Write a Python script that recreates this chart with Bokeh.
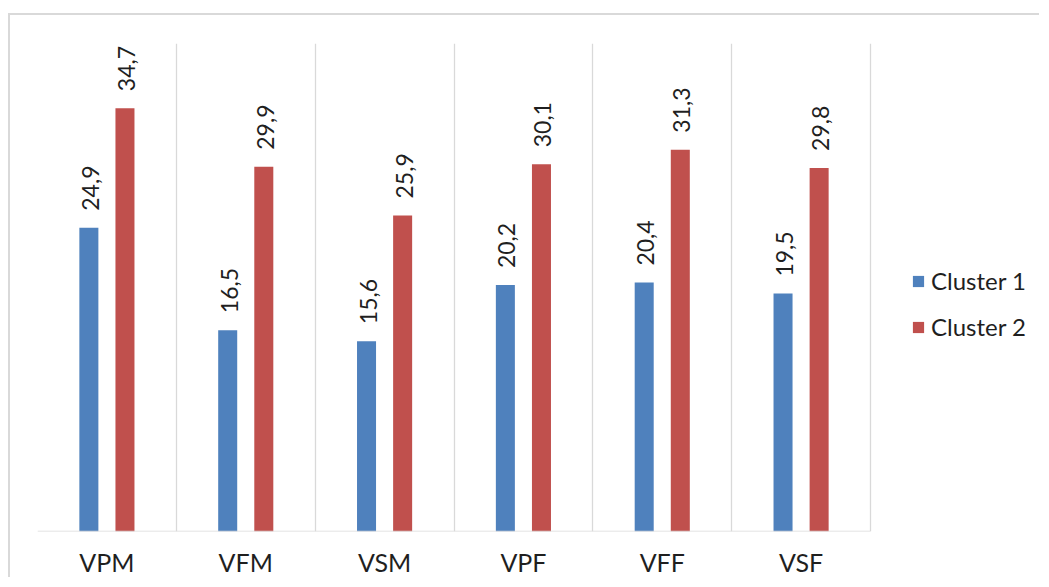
import math
from bokeh.plotting import figure
from bokeh.models import ColumnDataSource, FixedTicker, Legend, LegendItem, Range1d
from bokeh.core.properties import value
from bokeh.embed import file_html
from bokeh.resources import INLINE

categories = ["VPM", "VFM", "VSM", "VPF", "VFF", "VSF"]
cluster1 = [24.9, 16.5, 15.6, 20.2, 20.4, 19.5]
cluster2 = [34.7, 29.9, 25.9, 30.1, 31.3, 29.8]
series_names = ["Cluster 1", "Cluster 2"]
colors = ["#4F81BD", "#C0504D"]

FONT = "Lato"
TXT = "#1f1f1f"
GRID = "#d9d9d9"
n = len(categories)
centers = [i + 0.5 for i in range(n)]
offsets = [-0.13, 0.13]
bar_w = 0.137

W, H = 1031, 564
ML, MT, MB = 27, 28, 47
plot_w = 833                      # width in px taken by the category area
frame_w = W - ML
x_end = n * frame_w / plot_w

p = figure(width=W, height=H, output_backend="svg", toolbar_location=None,
           x_range=Range1d(0, x_end), y_range=Range1d(0, 40),
           min_border_left=ML, min_border_right=0, min_border_top=MT, min_border_bottom=MB)
p.margin = (13, 0, 0, 8)
p.styles = {"border-top": "2px solid " + GRID, "border-left": "2px solid " + GRID}
p.outline_line_color = None
p.background_fill_color = "white"
p.border_fill_color = "white"

renderers = []
for vals, off, col in zip([cluster1, cluster2], offsets, colors):
    src = ColumnDataSource(dict(x=[c + off for c in centers], top=vals,
                                lbl=[("%.1f" % v).replace(".", ",") for v in vals]))
    r = p.vbar(x="x", top="top", bottom=0, width=bar_w, source=src, fill_color=col, line_color=None)
    renderers.append(r)
    p.text(x="x", y="top", text="lbl", source=src, angle=math.pi / 2, text_align="left",
           text_baseline="middle", y_offset=-17, x_offset=1.5, text_font=value(FONT),
           text_font_size="23px", text_color=TXT)

# baseline under the category area only
p.segment(x0=[0], y0=[0], x1=[n], y1=[0], line_color=GRID, line_width=1.3)

p.yaxis.visible = False
p.ygrid.grid_line_color = None
p.xgrid.ticker = FixedTicker(ticks=list(range(n + 1)))
p.xgrid.grid_line_color = GRID
p.xgrid.grid_line_width = 1.3
p.xaxis.ticker = FixedTicker(ticks=centers)
p.xaxis.major_label_overrides = {c: name for c, name in zip(centers, categories)}
p.xaxis.axis_line_color = None
p.xaxis.major_tick_line_color = None
p.xaxis.minor_tick_line_color = None
p.xaxis.major_tick_out = 0
p.xaxis.major_tick_in = 0
p.xaxis.minor_tick_out = 0
p.xaxis.major_label_text_font = FONT
p.xaxis.major_label_text_font_size = "25px"
p.xaxis.major_label_text_color = TXT
p.xaxis.major_label_standoff = 15

legend = Legend(items=[LegendItem(label=nm, renderers=[r]) for nm, r in zip(series_names, renderers)],
                location=(874, 190), orientation="vertical",
                label_text_font=FONT, label_text_font_size="24px", label_text_color=TXT,
                glyph_width=14, glyph_height=14, label_standoff=6, spacing=17,
                padding=0, margin=0, border_line_color=None, background_fill_alpha=0)
p.add_layout(legend, "center")

open("out.html", "w").write(file_html(p, INLINE))
